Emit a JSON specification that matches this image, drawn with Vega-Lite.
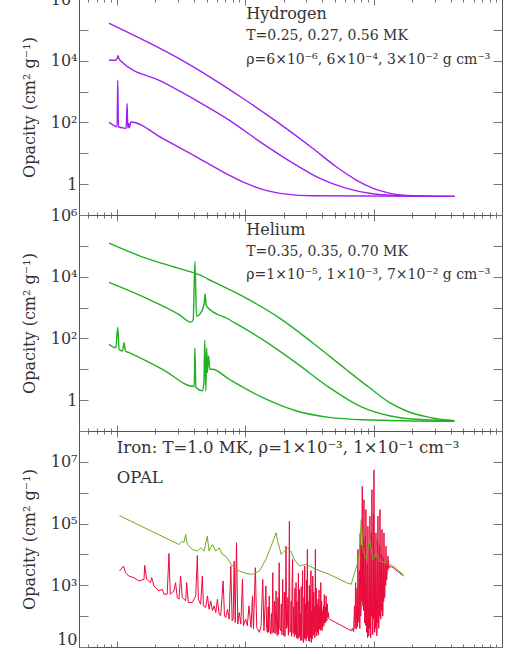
{
"$schema":"https://vega.github.io/schema/vega-lite/v6.json",
"padding":{"left":21,"top":-9,"right":0,"bottom":0},
"spacing":0,
"bounds":"flush",
"config":{"view":{"stroke":null},"font":"DejaVu Serif",
"axis":{"domainColor":"#555","tickColor":"#777","labelColor":"#333","titleColor":"#333","labelFont":"DejaVu Serif","titleFont":"DejaVu Serif","grid":false}},
"datasets":{
"h":[
{"s":"a","x":8.71,"y":164000},{"s":"a","x":16.8,"y":43100},{"s":"a","x":30.6,"y":11600},{"s":"a","x":55.6,"y":2630},{"s":"a","x":101,"y":525},{"s":"a","x":184,"y":92.9},{"s":"a","x":335,"y":14.5},{"s":"a","x":509,"y":3.72},{"s":"a","x":728,"y":1.38},{"s":"a","x":982,"y":0.743},{"s":"a","x":1324,"y":0.513},{"s":"a","x":2014,"y":0.42},{"s":"a","x":4256,"y":0.4},
{"s":"b","x":8.71,"y":10300},{"s":"b","x":9.7,"y":10300},{"s":"b","x":10.06,"y":11600},{"s":"b","x":10.24,"y":14500},{"s":"b","x":10.42,"y":11600},{"s":"b","x":10.74,"y":9760},{"s":"b","x":22.7,"y":2050},{"s":"b","x":41.3,"y":525},{"s":"b","x":75,"y":119},{"s":"b","x":136,"y":21},{"s":"b","x":248,"y":4.2},{"s":"b","x":378,"y":1.56},{"s":"b","x":608,"y":0.743},{"s":"b","x":982,"y":0.488},{"s":"b","x":2014,"y":0.41},{"s":"b","x":4256,"y":0.4},
{"s":"c","x":8.71,"y":100},{"s":"c","x":9.7,"y":76.2},{"s":"c","x":10.06,"y":72.4},{"s":"c","x":10.18,"y":2320},{"s":"c","x":10.3,"y":72.4},{"s":"c","x":11.4,"y":65.6},{"s":"c","x":11.82,"y":64},{"s":"c","x":12.04,"y":410},{"s":"c","x":12.18,"y":65.6},{"s":"c","x":12.4,"y":92.9},{"s":"c","x":12.55,"y":67.3},{"s":"c","x":12.85,"y":103},{"s":"c","x":22.7,"y":30.5},{"s":"c","x":41.3,"y":7.8},{"s":"c","x":66.5,"y":2.56},{"s":"c","x":101,"y":1.08},{"s":"c","x":145,"y":0.625},{"s":"c","x":207,"y":0.475},{"s":"c","x":335,"y":0.42},{"s":"c","x":4256,"y":0.4}
],
"he":[
{"s":"a","x":8.71,"y":122000},{"s":"a","x":16.8,"y":40000},{"s":"a","x":27.2,"y":21500},{"s":"a","x":36.6,"y":14900},{"s":"a","x":43.8,"y":11600},{"s":"a","x":55.6,"y":7060},{"s":"a","x":101,"y":2050},{"s":"a","x":184,"y":464},{"s":"a","x":335,"y":72.4},{"s":"a","x":608,"y":10},{"s":"a","x":925,"y":2.56},{"s":"a","x":1324,"y":0.841},{"s":"a","x":1786,"y":0.453},{"s":"a","x":2716,"y":0.276},{"s":"a","x":4256,"y":0.215},
{"s":"b","x":8.71,"y":6560},{"s":"b","x":16.8,"y":2050},{"s":"b","x":30.6,"y":594},{"s":"b","x":37.8,"y":337},{"s":"b","x":39.4,"y":410},{"s":"b","x":40.6,"y":31200},{"s":"b","x":41.8,"y":525},{"s":"b","x":45.2,"y":673},{"s":"b","x":48,"y":1420},{"s":"b","x":48.8,"y":2760},{"s":"b","x":49.7,"y":1160},{"s":"b","x":50.6,"y":1050},{"s":"b","x":75,"y":410},{"s":"b","x":136,"y":92.9},{"s":"b","x":248,"y":16.4},{"s":"b","x":452,"y":2.56},{"s":"b","x":820,"y":0.58},{"s":"b","x":1324,"y":0.312},{"s":"b","x":2014,"y":0.244},{"s":"b","x":4256,"y":0.215},
{"s":"c","x":8.71,"y":64},{"s":"c","x":9.82,"y":50},{"s":"c","x":10.18,"y":232},{"s":"c","x":10.42,"y":44.2},{"s":"c","x":11.07,"y":39},{"s":"c","x":11.4,"y":72.4},{"s":"c","x":11.68,"y":39},{"s":"c","x":12.48,"y":34.5},{"s":"c","x":22.7,"y":10},{"s":"c","x":40.1,"y":2.76},{"s":"c","x":40.6,"y":50},{"s":"c","x":41.3,"y":2.56},{"s":"c","x":46.6,"y":2},{"s":"c","x":47.7,"y":4},{"s":"c","x":48.5,"y":88.3},{"s":"c","x":49.4,"y":2},{"s":"c","x":50.2,"y":50},{"s":"c","x":50.8,"y":7.8},{"s":"c","x":51.8,"y":26.9},{"s":"c","x":53.1,"y":10},{"s":"c","x":55.6,"y":10},{"s":"c","x":75,"y":4.75},{"s":"c","x":136,"y":1.22},{"s":"c","x":248,"y":0.453},{"s":"c","x":452,"y":0.276},{"s":"c","x":820,"y":0.232},{"s":"c","x":4256,"y":0.205}
],
"fered":[
{"x":10.5,"y":2900},{"x":11.3,"y":4200},{"x":11.7,"y":2560},{"x":12.4,"y":2000},{"x":13.6,"y":1770},{"x":14.9,"y":1380},{"x":16.3,"y":1560},{"x":16.5,"y":4420},{"x":17.1,"y":1560},{"x":18.3,"y":1220},{"x":18.7,"y":1770},{"x":19.5,"y":951},{"x":21.3,"y":656},{"x":22.6,"y":743},{"x":23.3,"y":513},{"x":24.7,"y":513},{"x":25.5,"y":10800},{"x":26.1,"y":513},{"x":27.9,"y":656},{"x":28.7,"y":1220},{"x":29.6,"y":400},{"x":30.5,"y":353},{"x":31.4,"y":2000},{"x":32.4,"y":400},{"x":34.4,"y":312},{"x":35,"y":1220},{"x":36.1,"y":276},{"x":38.8,"y":276},{"x":41.2,"y":453},{"x":42.4,"y":9290},{"x":43.2,"y":353},{"x":45,"y":244},{"x":46.4,"y":2000},{"x":47.3,"y":215},{"x":49.3,"y":190},{"x":50.8,"y":453},{"x":52.3,"y":168},{"x":53.9,"y":312},{"x":55.6,"y":149},{"x":57.3,"y":215},{"x":59,"y":131},{"x":60.8,"y":353},{"x":62.7,"y":116},{"x":64.5,"y":103},{"x":67.3,"y":1380},{"x":69,"y":103},{"x":70.6,"y":90.6},{"x":72.8,"y":168},{"x":75,"y":80},{"x":77.3,"y":4200},{"x":79.1,"y":70.7},{"x":80.6,"y":80},{"x":82.1,"y":6100},{"x":83.6,"y":62.5},{"x":85.6,"y":23800},{"x":87.6,"y":55.2},{"x":89.8,"y":131},{"x":92.5,"y":55.2},{"x":95.3,"y":1560},{"x":97,"y":48.8},{"x":101,"y":80},{"x":104,"y":48.8},{"x":107,"y":215},{"x":111,"y":43.1},{"x":114,"y":453},{"x":116,"y":38.1},{"x":120,"y":3720},{"x":123,"y":43.1},{"x":129,"y":29.7},{"x":133,"y":48.8},{"x":137,"y":1560},{"x":140,"y":33.6},{"x":145,"y":951},{"x":147,"y":40},{"x":149,"y":29.7},{"x":151,"y":200},{"x":152,"y":30},{"x":154,"y":453},{"x":156,"y":35},{"x":158,"y":26.2},{"x":160,"y":120},{"x":162,"y":28},{"x":164,"y":2560},{"x":165.5,"y":45},{"x":167,"y":29.7},{"x":169,"y":300},{"x":171,"y":27},{"x":172.5,"y":120},{"x":174,"y":656},{"x":176,"y":30},{"x":178,"y":23.2},{"x":180,"y":400},{"x":182,"y":26},{"x":184,"y":5380},{"x":186,"y":40},{"x":189,"y":33.6},{"x":191,"y":250},{"x":193,"y":25},{"x":196,"y":1560},{"x":198,"y":30},{"x":200,"y":23.2},{"x":202,"y":600},{"x":204,"y":22},{"x":206,"y":150},{"x":208,"y":18600},{"x":210,"y":40},{"x":213,"y":48.8},{"x":215,"y":400},{"x":217,"y":24},{"x":219,"y":900},{"x":221,"y":119000},{"x":223,"y":30},{"x":226,"y":38.1},{"x":228,"y":300},{"x":230,"y":22},{"x":232,"y":1200},{"x":234,"y":6900},{"x":236,"y":28},{"x":238,"y":200},{"x":240,"y":29.7},{"x":242,"y":21},{"x":244,"y":800},{"x":246,"y":25},{"x":249,"y":1220},{"x":251,"y":20},{"x":253,"y":300},{"x":255,"y":23.2},{"x":257,"y":18},{"x":260,"y":2500},{"x":262,"y":20},{"x":264,"y":743},{"x":266,"y":22},{"x":268,"y":120},{"x":271,"y":16},{"x":273,"y":900},{"x":275,"y":17},{"x":277,"y":168},{"x":280,"y":3000},{"x":282,"y":16},{"x":284,"y":14.1},{"x":287,"y":400},{"x":289,"y":18},{"x":291,"y":4200},{"x":293,"y":20},{"x":296,"y":250},{"x":298,"y":16},{"x":301,"y":1500},{"x":303,"y":20},{"x":305,"y":14500},{"x":307,"y":25},{"x":309,"y":300},{"x":311,"y":16},{"x":313,"y":18.1},{"x":316,"y":1000},{"x":318,"y":15},{"x":320,"y":743},{"x":323,"y":20},{"x":325,"y":3000},{"x":328,"y":14.1},{"x":330,"y":150},{"x":333,"y":18},{"x":336,"y":2000},{"x":340,"y":25},{"x":342,"y":600},{"x":344,"y":23.2},{"x":347,"y":200},{"x":349,"y":20},{"x":352,"y":14500},{"x":355,"y":30},{"x":358,"y":800},{"x":361,"y":23.2},{"x":364,"y":250},{"x":367,"y":30},{"x":370,"y":353},{"x":373,"y":25},{"x":376,"y":700},{"x":379,"y":38.1},{"x":382,"y":200},{"x":385,"y":35},{"x":388,"y":1220},{"x":391,"y":40},{"x":394,"y":300},{"x":397,"y":33.6},{"x":400,"y":150},{"x":403,"y":45},{"x":407,"y":215},{"x":410,"y":50},{"x":413,"y":500},{"x":417,"y":62.5},{"x":420,"y":200},{"x":423,"y":60},{"x":427,"y":453},{"x":432,"y":70},{"x":436,"y":250},{"x":440,"y":90.6},{"x":445,"y":130},{"x":448,"y":85},{"x":453,"y":80},
{"x":669,"y":33.6},{"x":683,"y":40},{"x":698,"y":31.3},{"x":705,"y":100},{"x":711,"y":215},{"x":717,"y":40},{"x":724,"y":1220},{"x":728,"y":60},{"x":732,"y":38.1},{"x":743,"y":800},{"x":749,"y":45},{"x":755,"y":14500},{"x":761,"y":200},{"x":768,"y":62.5},{"x":775,"y":3000},{"x":781,"y":40},{"x":787,"y":50000},{"x":794,"y":100},{"x":801,"y":215},{"x":808,"y":20000},{"x":812,"y":300},{"x":816,"y":1600000},{"x":821,"y":500},{"x":826,"y":215},{"x":833,"y":30000},{"x":837,"y":150},{"x":841,"y":594000},{"x":848,"y":2000},{"x":852,"y":60},{"x":856,"y":103},{"x":863,"y":40000},{"x":867,"y":50},{"x":871,"y":283000},{"x":879,"y":500},{"x":883,"y":30},{"x":887,"y":38.1},{"x":895,"y":5000},{"x":899,"y":20},{"x":903,"y":82000},{"x":911,"y":300},{"x":915,"y":25},{"x":919,"y":23.2},{"x":928,"y":20000},{"x":932,"y":40},{"x":936,"y":173000},{"x":944,"y":1000},{"x":948,"y":20},{"x":953,"y":29.7},{"x":961,"y":50000},{"x":966,"y":100},{"x":970,"y":1250000},{"x":979,"y":300},{"x":984,"y":25},{"x":988,"y":38.1},{"x":997,"y":200000},{"x":1001,"y":80},{"x":1006,"y":5520000},{"x":1015,"y":2000},{"x":1020,"y":30},{"x":1024,"y":215},{"x":1034,"y":8000},{"x":1038,"y":40},{"x":1043,"y":50000},{"x":1052,"y":400},{"x":1057,"y":30},{"x":1062,"y":23.2},{"x":1071,"y":30000},{"x":1076,"y":60},{"x":1081,"y":173000},{"x":1091,"y":300},{"x":1096,"y":40},{"x":1101,"y":62.5},{"x":1111,"y":20000},{"x":1116,"y":100},{"x":1121,"y":283000},{"x":1131,"y":2000},{"x":1136,"y":80},{"x":1141,"y":103},{"x":1152,"y":10000},{"x":1157,"y":150},{"x":1162,"y":64000},{"x":1172,"y":1000},{"x":1178,"y":100},{"x":1183,"y":168},{"x":1193,"y":8000},{"x":1199,"y":300},{"x":1204,"y":50000},{"x":1215,"y":1500},{"x":1220,"y":400},{"x":1226,"y":743},{"x":1237,"y":5000},{"x":1243,"y":1000},{"x":1249,"y":18600},{"x":1260,"y":3000},{"x":1265,"y":1500},{"x":1271,"y":2000},{"x":1283,"y":6000},{"x":1288,"y":3000},{"x":1294,"y":8800},{"x":1314,"y":3500},{"x":1334,"y":4200},{"x":1375,"y":3900},{"x":1416,"y":3720},{"x":1716,"y":2000}
],
"fegreen":[
{"x":10.5,"y":181000},{"x":30.5,"y":21000},{"x":32.4,"y":26900},{"x":33.3,"y":23800},{"x":34.4,"y":44200},{"x":35.4,"y":21000},{"x":38.7,"y":14500},{"x":42.4,"y":12800},{"x":45.1,"y":16400},{"x":47.8,"y":12800},{"x":50.7,"y":38900},{"x":52.3,"y":12800},{"x":55.6,"y":21000},{"x":59,"y":12800},{"x":62.7,"y":16400},{"x":66.5,"y":10000},{"x":70.6,"y":8800},{"x":75,"y":6080},{"x":79.6,"y":4200},{"x":89.8,"y":2890},{"x":101,"y":2440},{"x":114,"y":2260},{"x":129,"y":2890},{"x":145,"y":6900},{"x":163,"y":23800},{"x":174,"y":50100},{"x":179,"y":26900},{"x":184,"y":18500},{"x":190,"y":10000},{"x":202,"y":12800},{"x":214,"y":16400},{"x":227,"y":12800},{"x":241,"y":6900},{"x":264,"y":4200},{"x":298,"y":4750},{"x":357,"y":3280},{"x":453,"y":2260},{"x":612,"y":1220},{"x":670,"y":1080},{"x":711,"y":2570},{"x":754,"y":5400},{"x":778,"y":14500},{"x":801,"y":135000},{"x":825,"y":14500},{"x":877,"y":6900},{"x":931,"y":30500},{"x":988,"y":6900},{"x":1050,"y":11300},{"x":1114,"y":6080},{"x":1257,"y":5400},{"x":1416,"y":4200},{"x":1714,"y":2150}
]
},
"vconcat":[
{"width":423,"height":216,
"resolve":{"axis":{"x":"independent","y":"independent"}},
"layer":[
{"data":{"name":"h"},"mark":{"type":"line","color":"#a020f0","strokeWidth":1.4,"interpolate":"monotone","clip":true},
"encoding":{"detail":{"field":"s"},
"x":{"field":"x","type":"quantitative","scale":{"type":"log","domain":[5.08,10000],"nice":false},"axis":{"orient":"bottom","title":null,"labels":false,"values":[6,7,8,9,10,20,30,40,50,60,70,80,90,100,200,300,400,500,600,700,800,900,1000,2000,3000,4000,5000,6000,7000,8000,9000,10000],"tickSize":{"condition":{"test":"datum.value==10||datum.value==100||datum.value==1000||datum.value==10000","value":-6},"value":-3}}},
"y":{"field":"y","type":"quantitative","scale":{"type":"log","domain":[0.1,1000000],"nice":false},"axis":{"orient":"left","values":[0.1,1,10,100,1000,10000,100000,1000000],"tickSize":-9,"labelPadding":11,"labelFontSize":16,"labelExpr":"datum.value==1000000?'10⁶':datum.value==10000?'10⁴':datum.value==100?'10²':datum.value==1?'1':''","title":"Opacity (cm² g⁻¹)","titleFontSize":16,"titleFontWeight":"normal","titlePadding":13}}}},
{"data":{"values":[{"x":102,"y":320000,"t":"Hydrogen"}]},"mark":{"type":"text","align":"left","baseline":"middle","fontSize":16,"color":"#333"},
"encoding":{"text":{"field":"t"},
"x":{"field":"x","type":"quantitative","scale":{"type":"log","domain":[5.08,10000],"nice":false},"axis":{"orient":"top","title":null,"labels":false,"values":[6,7,8,9,10,20,30,40,50,60,70,80,90,100,200,300,400,500,600,700,800,900,1000,2000,3000,4000,5000,6000,7000,8000,9000,10000],"tickSize":{"condition":{"test":"datum.value==10||datum.value==100||datum.value==1000||datum.value==10000","value":-6},"value":-3}}},
"y":{"field":"y","type":"quantitative","scale":{"type":"log","domain":[0.1,1000000],"nice":false},"axis":{"orient":"right","title":null,"labels":false,"values":[0.1,1,10,100,1000,10000,100000,1000000],"tickSize":-9}}}},
{"data":{"values":[{"x":102,"y":63000,"t":"T=0.25, 0.27, 0.56 MK"},{"x":102,"y":10500,"t":"ρ=6×10⁻⁶, 6×10⁻⁴, 3×10⁻² g cm⁻³"}]},"mark":{"type":"text","align":"left","baseline":"middle","fontSize":14,"color":"#333"},
"encoding":{"text":{"field":"t"},
"x":{"field":"x","type":"quantitative","scale":{"type":"log","domain":[5.08,10000],"nice":false},"axis":null},
"y":{"field":"y","type":"quantitative","scale":{"type":"log","domain":[0.1,1000000],"nice":false},"axis":null}}}
]},
{"width":423,"height":216,
"resolve":{"axis":{"x":"independent","y":"independent"}},
"layer":[
{"data":{"name":"he"},"mark":{"type":"line","color":"#22b022","strokeWidth":1.4,"interpolate":"monotone","clip":true},
"encoding":{"detail":{"field":"s"},
"x":{"field":"x","type":"quantitative","scale":{"type":"log","domain":[5.08,10000],"nice":false},"axis":{"orient":"bottom","title":null,"labels":false,"values":[6,7,8,9,10,20,30,40,50,60,70,80,90,100,200,300,400,500,600,700,800,900,1000,2000,3000,4000,5000,6000,7000,8000,9000,10000],"tickSize":{"condition":{"test":"datum.value==10||datum.value==100||datum.value==1000||datum.value==10000","value":-6},"value":-3}}},
"y":{"field":"y","type":"quantitative","scale":{"type":"log","domain":[0.1,1000000],"nice":false},"axis":{"orient":"left","values":[0.1,1,10,100,1000,10000,100000,1000000],"tickSize":-9,"labelPadding":11,"labelFontSize":16,"labelExpr":"datum.value==1000000?'10⁶':datum.value==10000?'10⁴':datum.value==100?'10²':datum.value==1?'1':''","title":"Opacity (cm² g⁻¹)","titleFontSize":16,"titleFontWeight":"normal","titlePadding":13}}}},
{"data":{"values":[{"x":102,"y":320000,"t":"Helium"}]},"mark":{"type":"text","align":"left","baseline":"middle","fontSize":16,"color":"#333"},
"encoding":{"text":{"field":"t"},
"x":{"field":"x","type":"quantitative","scale":{"type":"log","domain":[5.08,10000],"nice":false},"axis":{"orient":"top","title":null,"labels":false,"values":[6,7,8,9,10,20,30,40,50,60,70,80,90,100,200,300,400,500,600,700,800,900,1000,2000,3000,4000,5000,6000,7000,8000,9000,10000],"tickSize":{"condition":{"test":"datum.value==10||datum.value==100||datum.value==1000||datum.value==10000","value":-6},"value":-3}}},
"y":{"field":"y","type":"quantitative","scale":{"type":"log","domain":[0.1,1000000],"nice":false},"axis":{"orient":"right","title":null,"labels":false,"values":[0.1,1,10,100,1000,10000,100000,1000000],"tickSize":-9}}}},
{"data":{"values":[{"x":102,"y":63000,"t":"T=0.35, 0.35, 0.70 MK"},{"x":102,"y":11500,"t":"ρ=1×10⁻⁵, 1×10⁻³, 7×10⁻² g cm⁻³"}]},"mark":{"type":"text","align":"left","baseline":"middle","fontSize":14,"color":"#333"},
"encoding":{"text":{"field":"t"},
"x":{"field":"x","type":"quantitative","scale":{"type":"log","domain":[5.08,10000],"nice":false},"axis":null},
"y":{"field":"y","type":"quantitative","scale":{"type":"log","domain":[0.1,1000000],"nice":false},"axis":null}}}
]},
{"width":423,"height":216,
"resolve":{"axis":{"x":"independent","y":"independent"}},
"layer":[
{"data":{"name":"fered"},"mark":{"type":"line","color":"#ea0a3c","strokeWidth":1,"clip":true},
"encoding":{
"x":{"field":"x","type":"quantitative","scale":{"type":"log","domain":[5.08,10000],"nice":false},"axis":{"orient":"bottom","title":null,"labels":false,"values":[6,7,8,9,10,20,30,40,50,60,70,80,90,100,200,300,400,500,600,700,800,900,1000,2000,3000,4000,5000,6000,7000,8000,9000,10000],"tickSize":{"condition":{"test":"datum.value==10||datum.value==100||datum.value==1000||datum.value==10000","value":-6},"value":-3}}},
"y":{"field":"y","type":"quantitative","scale":{"type":"log","domain":[10,100000000],"nice":false},"axis":{"orient":"left","values":[10,100,1000,10000,100000,1000000,10000000,100000000],"tickSize":-9,"labelPadding":11,"labelFontSize":16,"labelFlush":true,"labelExpr":"datum.value==10000000?'10⁷':datum.value==100000?'10⁵':datum.value==1000?'10³':datum.value==10?'10':''","title":"Opacity (cm² g⁻¹)","titleFontSize":16,"titleFontWeight":"normal","titlePadding":13}}}},
{"data":{"name":"fegreen"},"mark":{"type":"line","color":"#72aa1e","strokeWidth":1,"clip":true},
"encoding":{
"x":{"field":"x","type":"quantitative","scale":{"type":"log","domain":[5.08,10000],"nice":false},"axis":null},
"y":{"field":"y","type":"quantitative","scale":{"type":"log","domain":[10,100000000],"nice":false},"axis":null}}},
{"data":{"values":[{"x":10,"y":29000000,"t":"Iron: T=1.0 MK, ρ=1×10⁻³, 1×10⁻¹ cm⁻³"},{"x":10,"y":2900000,"t":"OPAL"}]},"mark":{"type":"text","align":"left","baseline":"middle","fontSize":16.5,"color":"#333"},
"encoding":{"text":{"field":"t"},
"x":{"field":"x","type":"quantitative","scale":{"type":"log","domain":[5.08,10000],"nice":false},"axis":{"orient":"top","title":null,"labels":false,"values":[6,7,8,9,10,20,30,40,50,60,70,80,90,100,200,300,400,500,600,700,800,900,1000,2000,3000,4000,5000,6000,7000,8000,9000,10000],"tickSize":{"condition":{"test":"datum.value==10||datum.value==100||datum.value==1000||datum.value==10000","value":-6},"value":-3}}},
"y":{"field":"y","type":"quantitative","scale":{"type":"log","domain":[10,100000000],"nice":false},"axis":{"orient":"right","title":null,"labels":false,"values":[10,100,1000,10000,100000,1000000,10000000,100000000],"tickSize":-9}}}}
]}
]
}
